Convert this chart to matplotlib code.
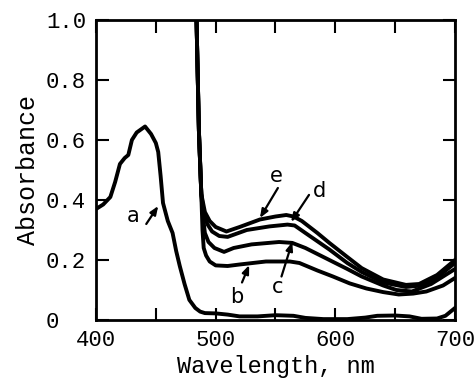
import matplotlib
matplotlib.use("Agg")
import matplotlib.pyplot as plt

# curve a
wl_a = [400, 406, 412, 416, 420, 424, 427, 430, 434, 441, 446, 450, 452, 454, 456,
        460, 464, 467, 470, 474, 478, 483, 487, 491, 500, 510, 520, 535, 550, 565,
        575, 590, 610, 625, 635, 650, 662, 672, 685, 692, 700]
abs_a = [0.37, 0.385, 0.41, 0.46, 0.52, 0.54, 0.55, 0.60, 0.625, 0.645, 0.62, 0.59,
         0.56, 0.48, 0.39, 0.33, 0.29, 0.23, 0.18, 0.12, 0.067, 0.04, 0.028, 0.023,
         0.022, 0.018, 0.012, 0.012, 0.016, 0.014, 0.007, 0.003, 0.003, 0.008, 0.014,
         0.015, 0.012, 0.004, 0.005, 0.014, 0.04]

# curves b-e
wl_b = [483, 484, 486, 488, 489, 490, 492, 495, 500, 510, 520, 542, 562, 570, 585,
        598, 612, 626, 640, 653, 665, 676, 690, 700]
abs_b = [1.05, 1.0, 0.63, 0.42, 0.30, 0.24, 0.215, 0.195, 0.182, 0.18, 0.185, 0.195,
         0.195, 0.19, 0.165, 0.145, 0.122, 0.105, 0.093, 0.085, 0.088, 0.095, 0.115, 0.14]

wl_c = [483, 484, 486, 488, 489.5, 491, 494, 499, 507, 515, 530, 553, 564, 575, 595,
        610, 622, 640, 651, 664, 680, 700]
abs_c = [1.05, 1.0, 0.63, 0.42, 0.34, 0.29, 0.26, 0.24, 0.227, 0.24, 0.252, 0.26,
         0.257, 0.24, 0.20, 0.17, 0.145, 0.115, 0.10, 0.095, 0.12, 0.17]

wl_d = [483, 484, 486, 488, 490, 493, 497, 503, 510, 526, 545, 560, 566, 575, 595,
        610, 622, 640, 659, 672, 686, 700]
abs_d = [1.05, 1.0, 0.63, 0.42, 0.36, 0.32, 0.295, 0.28, 0.277, 0.30, 0.312, 0.318,
         0.315, 0.29, 0.235, 0.19, 0.16, 0.125, 0.11, 0.115, 0.145, 0.19]

wl_e = [483, 484, 486, 488, 491, 495, 500, 509, 520, 537, 550, 559, 565, 572, 585,
        595, 610, 622, 640, 659, 670, 685, 700]
abs_e = [1.05, 1.0, 0.63, 0.42, 0.36, 0.33, 0.31, 0.295, 0.31, 0.335, 0.345, 0.35,
         0.345, 0.33, 0.29, 0.257, 0.21, 0.173, 0.135, 0.117, 0.12, 0.15, 0.20]

# labels: text (x, y), arrow tail and tip (x, y)
labels = ["a", "b", "c", "d", "e"]
label_xy = [(431, 0.345), (518, 0.075), (552, 0.11), (587, 0.43), (551, 0.48)]
arrow_tail = [(442, 0.32), (522, 0.125), (555, 0.145), (578, 0.417), (552, 0.44)]
arrow_tip = [(452, 0.38), (528, 0.183), (564, 0.26), (563, 0.327), (537, 0.34)]

mono = "Liberation Mono"

fig = plt.figure(figsize=(4.75, 3.83), dpi=100)
ax = fig.add_axes([0.2021, 0.1645, 0.7558, 0.7833])

for wl, ab in [(wl_a, abs_a), (wl_b, abs_b), (wl_c, abs_c), (wl_d, abs_d), (wl_e, abs_e)]:
    ax.plot(wl, ab, color="black", lw=2.8, solid_joinstyle="round")

for lab, txy, tail, tip in zip(labels, label_xy, arrow_tail, arrow_tip):
    ax.text(txy[0], txy[1], lab, fontsize=15, family="DejaVu Sans",
            ha="center", va="center")
    ax.annotate("", xy=tip, xytext=tail,
                arrowprops=dict(arrowstyle="-|>,head_length=0.5,head_width=0.2",
                                color="black", lw=1.6, shrinkA=0, shrinkB=0))

ax.set_xlim(400, 700)
ax.set_ylim(0, 1.0)
ax.set_xticks([400, 500, 600, 700])
ax.set_xticks([450, 550, 650], minor=True)
ax.set_yticks([0, 0.2, 0.4, 0.6, 0.8, 1.0])
ax.set_yticklabels(["0", "0.2", "0.4", "0.6", "0.8", "1.0"])
ax.tick_params(which="both", direction="in", top=True, right=True,
               length=9, width=1.5, labelsize=16)
ax.tick_params(axis="x", pad=7)
ax.tick_params(axis="y", pad=36)
for t in ax.get_xticklabels() + ax.get_yticklabels():
    t.set_family(mono)
for t in ax.get_yticklabels():
    t.set_horizontalalignment("left")
for s in ax.spines.values():
    s.set_linewidth(2)

ax.set_xlabel("Wavelength, nm", fontsize=17, family=mono, labelpad=3)
ax.set_ylabel("Absorbance", fontsize=18, family=mono, labelpad=4)

fig.savefig("out.png", dpi=100)
